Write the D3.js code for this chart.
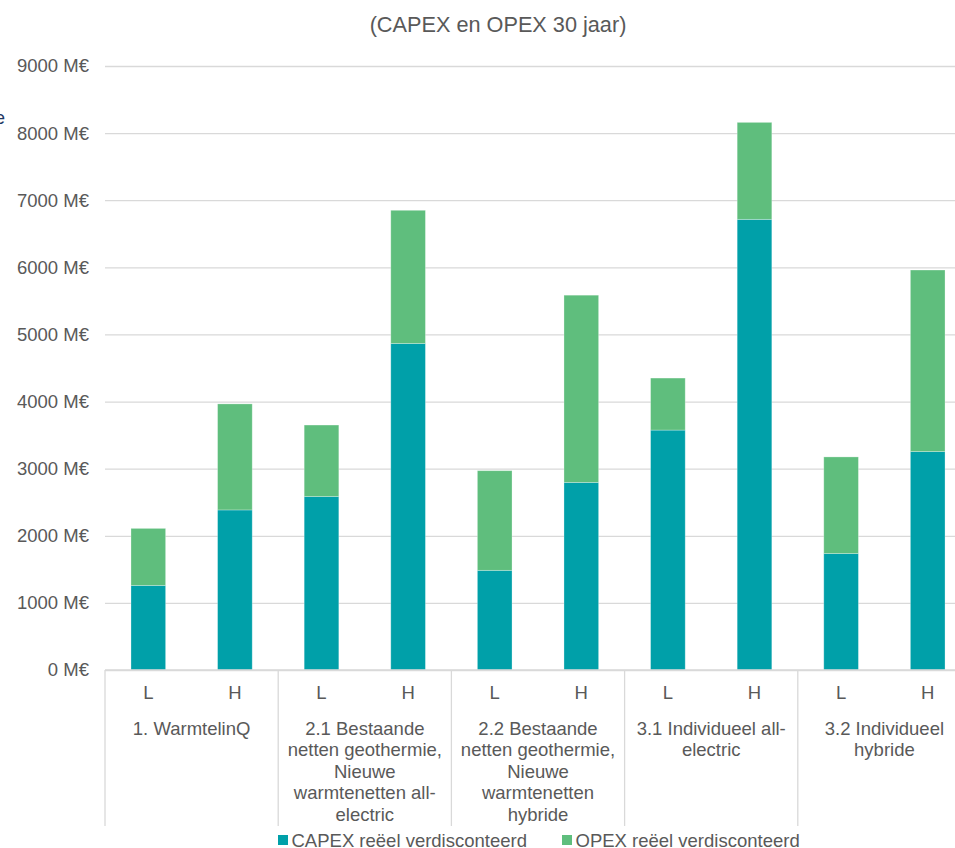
<!DOCTYPE html>
<html>
<head>
<meta charset="utf-8">
<script src="https://cdn.jsdelivr.net/npm/d3@7"></script>
<style>
  html, body { margin: 0; padding: 0; background: #fff; overflow: hidden; }
  svg { display: block; font-family: "Liberation Sans", Arial, sans-serif; }
</style>
</head>
<body>
<svg id="chart" width="955" height="848"></svg>
<script>
// ---- data ----
const title = "(CAPEX en OPEX 30 jaar)";
const groups = [
  ["1. WarmtelinQ"],
  ["2.1 Bestaande", "netten geothermie,", "Nieuwe", "warmtenetten all-", "electric"],
  ["2.2 Bestaande", "netten geothermie,", "Nieuwe", "warmtenetten", "hybride"],
  ["3.1 Individueel all-", "electric"],
  ["3.2 Individueel", "hybride"]
];
const scenarios = ["L", "H"];
const capex = [1260, 2385, 2585, 4865, 1485, 2795, 3575, 6715, 1735, 3255];
const opex  = [850, 1580, 1065, 1985, 1485, 2790, 775, 1445, 1440, 2705];
const seriesNames = ["CAPEX reëel verdisconteerd", "OPEX reëel verdisconteerd"];
const yTicks = [0, 1000, 2000, 3000, 4000, 5000, 6000, 7000, 8000, 9000];

// ---- layout ----
const svg = d3.select("#chart");
const textColor = "#595959";
const gridColor = "#d9d9d9";
const colors = ["#00A0A9", "#5FBE7D"];
const plotLeft = 105, plotRight = 971, plotTop = 66, plotBottom = 670;

const keys = [];
groups.forEach((g, gi) => scenarios.forEach((s, si) => keys.push(gi + "-" + si)));

const x = d3.scaleBand().domain(keys).range([plotLeft, plotRight]).paddingInner(0.6).paddingOuter(0.3);
const y = d3.scaleLinear().domain([0, 9000]).range([plotBottom, plotTop]);

// title
svg.append("text").attr("x", 498).attr("y", 31.5).attr("text-anchor", "middle")
  .attr("font-size", "21.7px").attr("fill", textColor).text(title);

// cropped fragment at left edge
svg.append("text").attr("x", 5).attr("y", 124).attr("text-anchor", "end")
  .attr("font-size", "19px").attr("fill", "#1F3864").text("e");

// gridlines + y labels
const yAxis = d3.axisLeft(y).tickValues(yTicks).tickSize(-(plotRight - plotLeft))
  .tickFormat(d => d + " M€").tickPadding(16);
const ga = svg.append("g").attr("transform", `translate(${plotLeft},0)`).call(yAxis);
ga.select(".domain").remove();
ga.selectAll(".tick line").attr("stroke", gridColor).attr("stroke-width", 1.3);
ga.selectAll(".tick text").attr("fill", textColor).attr("font-size", "18.5px")
  .attr("font-family", "Liberation Sans, Arial, sans-serif").attr("x", -16);

// stacked bars
const rows = keys.map((k, i) => ({ key: k, capex: capex[i], opex: opex[i] }));
const stack = d3.stack().keys(["capex", "opex"])(rows);
svg.append("g").selectAll("g").data(stack).join("g")
  .attr("fill", (d, i) => colors[i])
  .selectAll("rect").data(d => d).join("rect")
  .attr("x", d => x(d.data.key))
  .attr("width", x.bandwidth())
  .attr("y", d => y(d[1]))
  .attr("height", d => y(d[0]) - y(d[1]))
  .attr("stroke", "#ffffff").attr("stroke-opacity", 0.35).attr("stroke-width", 0.8);

// bottom axis line
svg.append("line").attr("x1", plotLeft).attr("x2", plotRight).attr("y1", plotBottom).attr("y2", plotBottom)
  .attr("stroke", gridColor).attr("stroke-width", 1.3);

// group separators
const step = x.step();
const groupBounds = d3.range(groups.length + 1).map(i => plotLeft + i * step * 2);
svg.append("g").selectAll("line").data(groupBounds).join("line")
  .attr("x1", d => d).attr("x2", d => d).attr("y1", plotBottom).attr("y2", 826)
  .attr("stroke", gridColor).attr("stroke-width", 1.3);

// L/H labels
svg.append("g").selectAll("text").data(keys).join("text")
  .attr("x", d => x(d) + x.bandwidth() / 2).attr("y", 699)
  .attr("text-anchor", "middle").attr("font-size", "18.5px").attr("fill", textColor)
  .text(d => scenarios[+d.split("-")[1]]);

// group labels
const gl = svg.append("g").selectAll("text").data(groups).join("text")
  .attr("text-anchor", "middle").attr("font-size", "18.5px").attr("fill", textColor)
  .attr("transform", (d, i) => `translate(${(groupBounds[i] + groupBounds[i + 1]) / 2},734.5)`);
gl.selectAll("tspan").data(d => d).join("tspan")
  .attr("x", 0).attr("y", (d, i) => i * 21.6).text(d => d);

// legend
const legendX = [278, 562];
const lg = svg.append("g").selectAll("g").data(seriesNames).join("g")
  .attr("transform", (d, i) => `translate(${legendX[i]},840)`);
lg.append("rect").attr("x", 0).attr("y", -5).attr("width", 10).attr("height", 10)
  .attr("fill", (d, i) => colors[i]);
lg.append("text").attr("x", 13.5).attr("y", 6.5).attr("font-size", "18.5px")
  .attr("fill", textColor).text(d => d);
</script>
</body>
</html>
